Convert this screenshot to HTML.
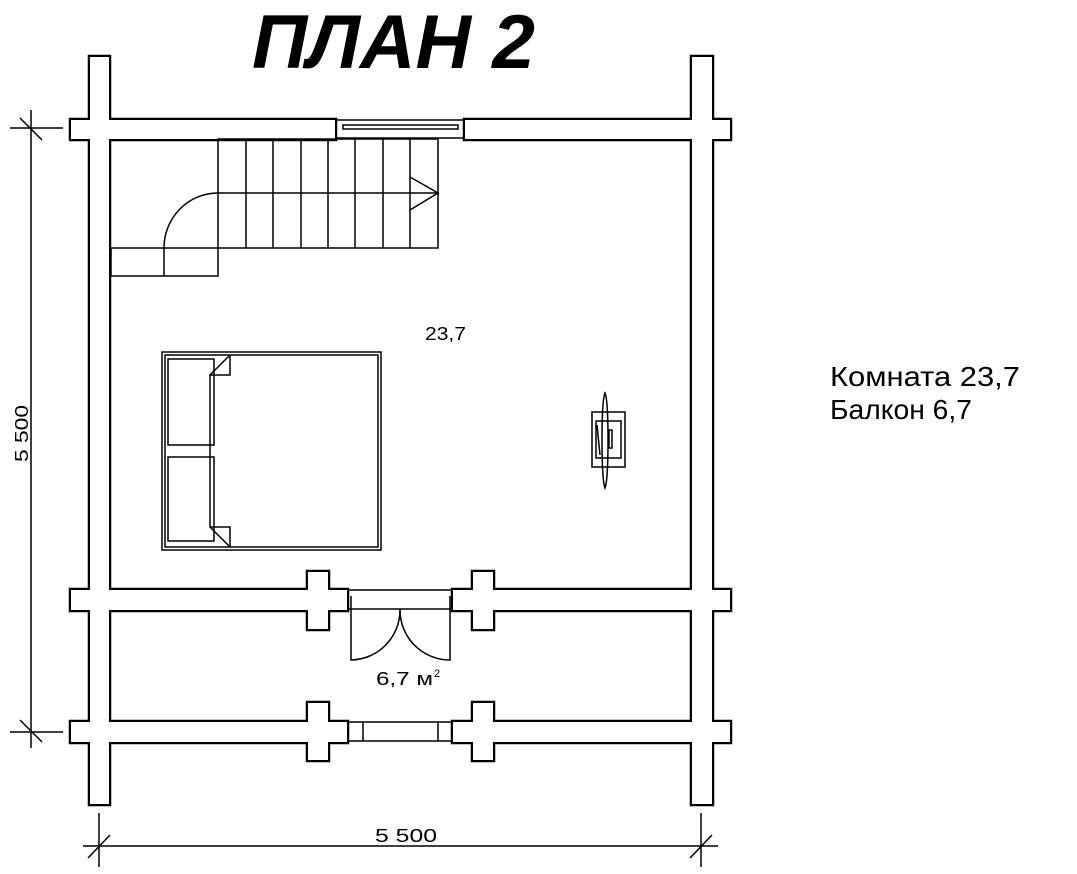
<!DOCTYPE html>
<html><head><meta charset="utf-8"><style>
html,body{margin:0;padding:0;background:#fff;}
svg{display:block;}
text{font-family:"Liberation Sans","DejaVu Sans",sans-serif;}
</style></head><body>
<svg width="1077" height="874" viewBox="0 0 1077 874" xmlns="http://www.w3.org/2000/svg">
<rect width="1077" height="874" fill="#fff"/>
<text x="252" y="68" font-size="76" font-weight="bold" font-style="italic" textLength="283" lengthAdjust="spacingAndGlyphs">ПЛАН 2</text>

<g fill="#fff" stroke="#000" stroke-width="4.5">
<rect x="90" y="57" width="19" height="747"/>
<rect x="692" y="57" width="20" height="747"/>
<rect x="71" y="120" width="264" height="19"/>
<rect x="465" y="120" width="265" height="19"/>
<rect x="71" y="590" width="276" height="20"/>
<rect x="453" y="590" width="277" height="20"/>
<rect x="71" y="722" width="276" height="20"/>
<rect x="453" y="722" width="277" height="20"/>
<rect x="308" y="572" width="20" height="57"/>
<rect x="473" y="572" width="20" height="57"/>
<rect x="308" y="703" width="20" height="57"/>
<rect x="473" y="703" width="20" height="57"/>
</g>
<g fill="#fff">
<rect x="90" y="57" width="19" height="747"/>
<rect x="692" y="57" width="20" height="747"/>
<rect x="71" y="120" width="264" height="19"/>
<rect x="465" y="120" width="265" height="19"/>
<rect x="71" y="590" width="276" height="20"/>
<rect x="453" y="590" width="277" height="20"/>
<rect x="71" y="722" width="276" height="20"/>
<rect x="453" y="722" width="277" height="20"/>
<rect x="308" y="572" width="20" height="57"/>
<rect x="473" y="572" width="20" height="57"/>
<rect x="308" y="703" width="20" height="57"/>
<rect x="473" y="703" width="20" height="57"/>
</g>

<g fill="none" stroke="#000" stroke-width="1.5">
<line x1="335" y1="120" x2="465" y2="120"/>
<line x1="335" y1="138" x2="465" y2="138"/>
<rect x="343" y="125" width="115" height="4"/>
<rect x="218" y="139" width="220" height="109"/>
<line x1="218" y1="193" x2="438" y2="193"/>
<line x1="246" y1="139" x2="246" y2="248"/>
<line x1="273" y1="139" x2="273" y2="248"/>
<line x1="301" y1="139" x2="301" y2="248"/>
<line x1="328" y1="139" x2="328" y2="248"/>
<line x1="355" y1="139" x2="355" y2="248"/>
<line x1="383" y1="139" x2="383" y2="248"/>
<line x1="410" y1="139" x2="410" y2="248"/>
<polyline points="410,177 438,193 410,210"/>
<rect x="111" y="248" width="107" height="28"/>
<line x1="164" y1="248" x2="164" y2="276"/>
<path d="M164 248 A54 55 0 0 1 218 193"/>
<rect x="162" y="352" width="219" height="198"/>
<rect x="165" y="355" width="213" height="192"/>
<rect x="168" y="359" width="46" height="86"/>
<rect x="168" y="457" width="46" height="84"/>
<path d="M230 355 L230 375 L210 375 L210 527 L230 527 L230 547"/>
<line x1="210" y1="375" x2="230" y2="355"/>
<line x1="210" y1="527" x2="230" y2="547"/>
<rect x="592" y="412" width="33" height="55"/>
<rect x="596" y="421" width="25" height="37"/>
<path d="M605 393 Q608 400 608 440 Q608 480 605 488 Q602 480 602 440 Q602 400 605 393 Z"/>
<path d="M597 425 L600 455"/>
<rect x="609" y="430" width="3" height="18"/>
<line x1="347" y1="590" x2="453" y2="590"/>
<line x1="347" y1="609" x2="453" y2="609"/>
<path d="M351 596 L351 660 A50 50 0 0 0 400 609"/>
<path d="M450 596 L450 660 A50 50 0 0 1 400 609"/>
<line x1="347" y1="722" x2="453" y2="722"/>
<line x1="347" y1="741" x2="453" y2="741"/>
<line x1="363" y1="722" x2="363" y2="741"/>
<line x1="438" y1="722" x2="438" y2="741"/>
<line x1="31" y1="110" x2="31" y2="748"/>
<line x1="10" y1="128" x2="63" y2="128"/>
<line x1="10" y1="732" x2="63" y2="732"/>
<line x1="20" y1="118" x2="42" y2="140"/>
<line x1="20" y1="720" x2="42" y2="742"/>
<line x1="83" y1="846" x2="718" y2="846"/>
<line x1="99" y1="813" x2="99" y2="867"/>
<line x1="701" y1="813" x2="701" y2="867"/>
<line x1="88" y1="858" x2="110" y2="835"/>
<line x1="690" y1="858" x2="712" y2="835"/>
</g>

<text x="425" y="340" font-size="18" textLength="41" lengthAdjust="spacingAndGlyphs">23,7</text>
<text x="376" y="685" font-size="18" textLength="57" lengthAdjust="spacingAndGlyphs">6,7 м</text>
<text x="434" y="677" font-size="11">2</text>
<text x="375" y="842" font-size="18" textLength="62" lengthAdjust="spacingAndGlyphs">5 500</text>
<text transform="translate(28,462) rotate(-90)" font-size="18" textLength="57" lengthAdjust="spacingAndGlyphs">5 500</text>
<text x="830" y="386" font-size="28" textLength="190" lengthAdjust="spacingAndGlyphs">Комната 23,7</text>
<text x="830" y="419" font-size="28" textLength="142" lengthAdjust="spacingAndGlyphs">Балкон 6,7</text>
</svg>
</body></html>
